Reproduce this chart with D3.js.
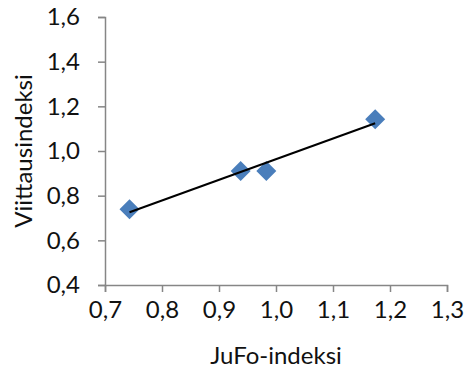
<!DOCTYPE html>
<html>
<head>
<meta charset="utf-8">
<script src="https://cdn.jsdelivr.net/npm/d3@7"></script>
<style>
  html, body { margin: 0; padding: 0; background: #fff; }
  svg { display: block; }
  text { font-family: Lato, "Open Sans", sans-serif; fill: #111; }
</style>
</head>
<body>
<svg id="chart" width="467" height="373"></svg>
<script>
// JuFo-indeksi (x) vs. Viittausindeksi (y)
const jufo = [0.743, 0.938, 0.983, 1.174];
const viittaus = [0.739, 0.911, 0.911, 1.142];
const xTicks = [0.7, 0.8, 0.9, 1.0, 1.1, 1.2, 1.3];
const yTicks = [0.4, 0.6, 0.8, 1.0, 1.2, 1.4, 1.6];

const svg = d3.select("#chart");
const margin = { left: 105, right: 20, top: 17, bottom: 88 };
const W = 467, H = 373;

const x = d3.scaleLinear().domain([0.7, 1.3]).range([margin.left, W - margin.right]);
const y = d3.scaleLinear().domain([0.4, 1.6]).range([H - margin.bottom, margin.top]);

const fmt = d => d3.format(".1f")(d).replace(".", ",");
const axisColor = "#868686";
const fontSize = "24px";

// x axis
const gx = svg.append("g")
  .attr("transform", `translate(0,${y(0.4)})`)
  .call(d3.axisBottom(x).tickValues(xTicks).tickFormat(fmt).tickSize(7).tickPadding(9));
gx.select(".domain").attr("stroke", axisColor).attr("stroke-width", 1.5);
gx.selectAll(".tick line").attr("stroke", axisColor).attr("stroke-width", 1.5);
gx.selectAll(".tick text").style("font-size", fontSize).attr("fill", "#111");

// y axis
const gy = svg.append("g")
  .attr("transform", `translate(${x(0.7)},0)`)
  .call(d3.axisLeft(y).tickValues(yTicks).tickFormat(fmt).tickSize(7).tickPadding(18));
gy.select(".domain").attr("stroke", axisColor).attr("stroke-width", 1.5);
gy.selectAll(".tick line").attr("stroke", axisColor).attr("stroke-width", 1.5);
gy.selectAll(".tick text").style("font-size", fontSize).attr("fill", "#111");

// axis titles
svg.append("text")
  .attr("x", (x(0.7) + x(1.3)) / 2)
  .attr("y", 364)
  .attr("text-anchor", "middle")
  .style("font-size", fontSize)
  .text("JuFo-indeksi");

svg.append("text")
  .attr("transform", `translate(32,${(y(0.4) + y(1.6)) / 2}) rotate(-90)`)
  .attr("text-anchor", "middle")
  .style("font-size", fontSize)
  .text("Viittausindeksi");

// points
const pts = jufo.map((v, i) => ({ x: v, y: viittaus[i] }));
svg.append("g").selectAll("path")
  .data(pts)
  .join("path")
  .attr("d", d3.symbol().type(d3.symbolSquare).size(200))
  .attr("transform", d => `translate(${x(d.x)},${y(d.y)}) rotate(45)`)
  .attr("fill", "#4a7ebb");

// least-squares trendline over the data range
const mx = d3.mean(jufo), my = d3.mean(viittaus);
const sxy = d3.sum(pts, d => (d.x - mx) * (d.y - my));
const sxx = d3.sum(pts, d => (d.x - mx) ** 2);
const slope = sxy / sxx, icpt = my - slope * mx;
const [x0, x1] = d3.extent(jufo);
svg.append("line")
  .attr("x1", x(x0)).attr("y1", y(icpt + slope * x0))
  .attr("x2", x(x1)).attr("y2", y(icpt + slope * x1))
  .attr("stroke", "#000").attr("stroke-width", 2);
</script>
</body>
</html>
